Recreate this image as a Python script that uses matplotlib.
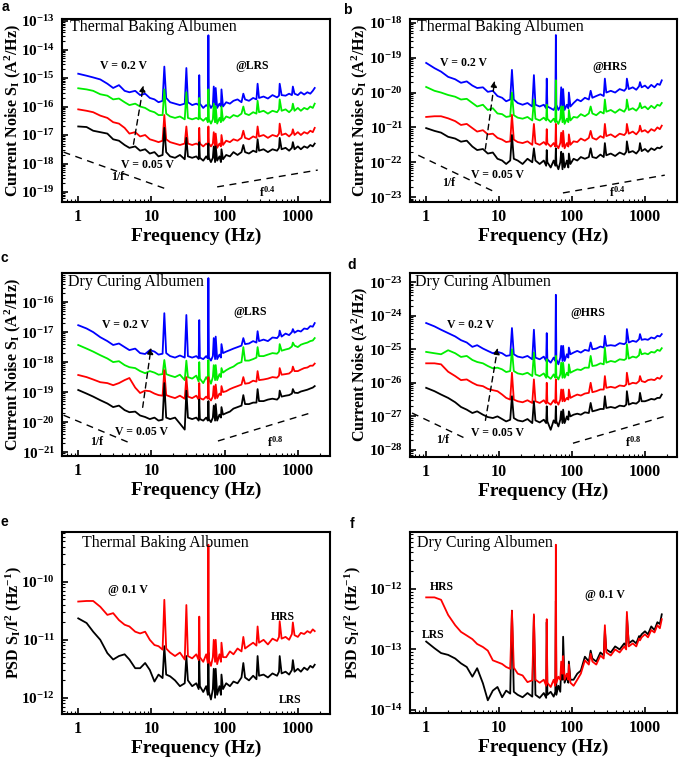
import numpy as np
import matplotlib.pyplot as plt
from matplotlib.ticker import FixedLocator, LogLocator, NullFormatter, FuncFormatter

plt.rcParams['font.family'] = 'Liberation Serif'
plt.rcParams['font.weight'] = 'bold'
plt.rcParams['axes.labelweight'] = 'bold'
plt.rcParams['mathtext.fontset'] = 'custom'
plt.rcParams['mathtext.rm'] = 'Liberation Serif:bold'
plt.rcParams['mathtext.bf'] = 'Liberation Serif:bold'
plt.rcParams['mathtext.it'] = 'Liberation Serif:bold'
plt.rcParams['mathtext.default'] = 'bf'

# frequency grid (Hz) shared by all traces
FREQ = [1, 1.3, 1.6, 2, 2.5, 3, 3.6, 4.3, 5, 6, 7, 8.2, 9.5, 11, 12.5,
        14.2, 15, 15.9, 18, 21, 24.5, 28.5, 30, 31.5, 36, 41, 44.2, 45, 45.9, 51,
        56, 59, 60, 61, 65, 69, 71, 74, 75.5, 79, 85, 89, 90.5, 95, 105,
        118, 132, 150, 170, 180, 190, 215, 245, 272, 282, 295, 340, 390, 450, 520,
        553, 565, 600, 680, 760, 830, 855, 900, 1000, 1100, 1220, 1350, 1480, 1600, 1700]

# log10 of the noise values
A_BLUE = [-14.85, -14.92, -14.98, -15.05, -15.20, -15.35, -15.25, -15.45, -15.50, -15.45, -15.60, -15.55, -15.70, -15.75, -15.85,
          -15.80, -14.60, -15.70, -15.85, -15.90, -15.95, -15.90, -14.65, -15.85, -15.95, -15.90, -15.95, -14.90, -15.90, -16.05,
          -15.95, -16.00, -13.50, -15.90, -16.05, -15.95, -15.30, -15.95, -15.35, -16.05, -15.90, -16.00, -15.40, -16.00, -15.85,
          -15.90, -15.80, -15.75, -15.85, -15.55, -15.75, -15.80, -15.70, -15.75, -15.20, -15.70, -15.65, -15.72, -15.60, -15.68,
          -15.62, -15.20, -15.60, -15.62, -15.55, -15.60, -15.30, -15.55, -15.60, -15.50, -15.58, -15.50, -15.55, -15.45, -15.35]
A_GREEN = [-15.36, -15.40, -15.45, -15.57, -15.62, -15.75, -15.72, -15.85, -15.95, -15.90, -16.00, -16.05, -16.15, -16.20, -16.30,
           -16.30, -15.40, -16.25, -16.35, -16.40, -16.35, -16.45, -15.50, -16.40, -16.45, -16.40, -16.45, -15.70, -16.40, -16.50,
           -16.40, -16.55, -15.40, -16.45, -16.60, -16.45, -15.90, -16.55, -16.00, -16.60, -16.40, -16.55, -16.00, -16.50, -16.35,
           -16.40, -16.30, -16.35, -16.25, -16.00, -16.25, -16.30, -16.20, -16.25, -15.80, -16.20, -16.15, -16.25, -16.15, -16.20,
           -16.10, -15.75, -16.15, -16.10, -16.20, -16.10, -15.90, -16.15, -16.05, -16.15, -16.05, -16.10, -16.00, -16.05, -15.90]
A_RED = [-16.10, -16.15, -16.20, -16.32, -16.40, -16.55, -16.60, -16.75, -16.95, -16.90, -17.05, -17.00, -17.15, -17.20, -17.25,
         -17.20, -16.30, -17.15, -17.25, -17.30, -17.35, -17.30, -16.70, -17.30, -17.35, -17.30, -17.35, -16.75, -17.30, -17.40,
         -17.30, -17.35, -16.70, -17.30, -17.40, -17.30, -16.90, -17.40, -16.95, -17.45, -17.30, -17.40, -17.00, -17.35, -17.20,
         -17.25, -17.15, -17.20, -17.10, -16.85, -17.10, -17.15, -17.05, -17.10, -16.70, -17.05, -17.00, -17.10, -17.00, -17.05,
         -16.95, -16.60, -17.00, -16.95, -17.05, -16.95, -16.80, -17.00, -16.90, -17.00, -16.90, -16.95, -16.85, -16.90, -16.75]
A_BLACK = [-16.70, -16.72, -16.85, -16.90, -16.95, -17.15, -17.20, -17.35, -17.45, -17.40, -17.55, -17.50, -17.65, -17.60, -17.75,
           -17.70, -16.75, -17.60, -17.75, -17.80, -17.70, -17.85, -17.10, -17.75, -17.80, -17.75, -17.85, -17.25, -17.80, -17.90,
           -17.75, -17.85, -17.30, -17.80, -17.95, -17.80, -17.40, -17.95, -17.40, -17.90, -17.75, -17.95, -17.50, -17.85, -17.70,
           -17.75, -17.60, -17.70, -17.60, -17.35, -17.60, -17.65, -17.55, -17.60, -17.15, -17.55, -17.50, -17.60, -17.50, -17.55,
           -17.45, -17.10, -17.50, -17.45, -17.55, -17.45, -17.25, -17.50, -17.40, -17.50, -17.40, -17.45, -17.35, -17.40, -17.30]

B_BLUE = [-19.15, -19.30, -19.40, -19.55, -19.62, -19.72, -19.68, -19.80, -19.87, -19.85, -19.98, -19.95, -20.10, -20.15, -20.25,
          -20.20, -19.35, -20.20, -20.30, -20.35, -20.30, -20.40, -19.50, -20.35, -20.40, -20.35, -20.45, -19.60, -20.40, -20.45,
          -20.50, -20.40, -18.35, -20.35, -20.50, -20.40, -19.85, -20.45, -19.90, -20.50, -20.35, -20.45, -20.00, -20.40, -20.30,
          -20.20, -20.25, -20.15, -20.20, -19.95, -20.15, -20.10, -20.05, -20.10, -19.60, -20.00, -19.95, -20.00, -19.90, -19.95,
          -19.88, -19.60, -19.90, -19.85, -19.92, -19.82, -19.70, -19.85, -19.80, -19.88, -19.78, -19.85, -19.75, -19.78, -19.65]
B_GREEN = [-19.84, -19.95, -20.00, -20.07, -20.12, -20.20, -20.18, -20.30, -20.40, -20.35, -20.50, -20.45, -20.60, -20.62, -20.70,
           -20.68, -20.00, -20.65, -20.72, -20.75, -20.70, -20.80, -20.20, -20.75, -20.80, -20.72, -20.80, -20.35, -20.75, -20.85,
           -20.75, -20.85, -19.65, -20.80, -20.90, -20.75, -20.40, -20.85, -20.40, -20.90, -20.75, -20.85, -20.50, -20.80, -20.70,
           -20.72, -20.62, -20.68, -20.60, -20.40, -20.60, -20.65, -20.55, -20.60, -20.20, -20.55, -20.50, -20.58, -20.48, -20.55,
           -20.45, -20.20, -20.50, -20.45, -20.52, -20.42, -20.30, -20.45, -20.40, -20.48, -20.38, -20.45, -20.35, -20.38, -20.30]
B_RED = [-20.70, -20.68, -20.68, -20.74, -20.82, -20.93, -20.90, -21.02, -21.12, -21.08, -21.20, -21.18, -21.30, -21.35, -21.42,
         -21.40, -20.64, -21.35, -21.42, -21.45, -21.40, -21.50, -20.90, -21.45, -21.50, -21.42, -21.50, -21.05, -21.45, -21.55,
         -21.45, -21.55, -20.90, -21.50, -21.60, -21.45, -21.15, -21.55, -21.10, -21.60, -21.45, -21.55, -21.20, -21.50, -21.40,
         -21.42, -21.32, -21.38, -21.30, -21.10, -21.30, -21.35, -21.25, -21.30, -20.90, -21.25, -21.20, -21.28, -21.18, -21.22,
         -21.15, -20.90, -21.18, -21.12, -21.20, -21.10, -20.95, -21.12, -21.08, -21.15, -21.05, -21.10, -21.00, -21.05, -20.95]
B_BLACK = [-21.02, -21.10, -21.15, -21.27, -21.32, -21.41, -21.38, -21.55, -21.65, -21.62, -21.75, -21.72, -21.90, -21.95, -22.05,
           -21.95, -21.22, -21.90, -21.95, -22.05, -21.90, -22.00, -21.60, -21.95, -22.05, -21.95, -22.10, -21.65, -22.00, -22.15,
           -21.95, -22.10, -21.60, -22.05, -22.20, -22.00, -21.70, -22.20, -21.75, -22.15, -21.95, -22.15, -21.75, -22.05, -21.90,
           -21.95, -21.85, -21.90, -21.85, -21.60, -21.85, -21.88, -21.78, -21.85, -21.45, -21.80, -21.75, -21.82, -21.72, -21.78,
           -21.70, -21.40, -21.72, -21.68, -21.75, -21.65, -21.45, -21.68, -21.62, -21.70, -21.60, -21.65, -21.58, -21.60, -21.55]

C_BLUE = [-16.77, -16.88, -17.00, -17.17, -17.30, -17.43, -17.38, -17.50, -17.60, -17.55, -17.70, -17.73, -17.60, -17.65, -17.75,
          -17.72, -16.37, -17.70, -17.80, -17.85, -17.78, -17.85, -16.43, -17.80, -17.85, -17.80, -17.88, -16.60, -17.85, -17.90,
          -17.80, -17.88, -15.20, -17.85, -17.95, -17.80, -17.20, -17.90, -17.15, -17.90, -17.75, -17.85, -17.40, -17.70, -17.65,
          -17.60, -17.55, -17.50, -17.45, -17.20, -17.40, -17.38, -17.30, -17.35, -16.97, -17.30, -17.25, -17.30, -17.18, -17.20,
          -17.12, -16.95, -17.15, -17.05, -17.10, -17.00, -16.90, -17.02, -16.95, -16.98, -16.88, -16.90, -16.80, -16.82, -16.70]
C_GREEN = [-17.43, -17.55, -17.65, -17.77, -17.88, -18.00, -17.97, -18.10, -18.17, -18.20, -18.30, -18.37, -18.30, -18.35, -18.42,
           -18.40, -17.93, -18.40, -18.45, -18.50, -18.42, -18.60, -17.95, -18.50, -18.55, -18.45, -18.65, -18.00, -18.55, -18.70,
           -18.50, -18.60, -17.93, -18.55, -18.72, -18.50, -18.10, -18.60, -18.10, -18.60, -18.40, -18.50, -18.20, -18.35, -18.27,
           -18.20, -18.15, -18.05, -18.00, -17.50, -17.95, -17.95, -17.90, -17.85, -17.50, -17.80, -17.80, -17.75, -17.70, -17.72,
           -17.65, -17.40, -17.62, -17.58, -17.55, -17.48, -17.35, -17.45, -17.50, -17.42, -17.38, -17.35, -17.30, -17.28, -17.20]
C_RED = [-18.43, -18.50, -18.58, -18.67, -18.70, -18.77, -18.70, -18.60, -18.53, -18.85, -19.03, -18.95, -18.97, -19.05, -19.10,
         -19.12, -18.27, -19.10, -19.15, -19.20, -19.12, -19.22, -18.50, -19.15, -19.20, -19.12, -19.25, -18.70, -19.20, -19.25,
         -19.15, -19.22, -18.50, -19.20, -19.28, -19.15, -18.80, -19.22, -18.75, -19.20, -19.05, -19.10, -18.80, -19.00, -18.97,
         -18.90, -18.85, -18.80, -18.75, -18.50, -18.72, -18.70, -18.62, -18.65, -18.30, -18.60, -18.58, -18.55, -18.50, -18.52,
         -18.45, -18.20, -18.42, -18.40, -18.38, -18.30, -18.15, -18.30, -18.30, -18.25, -18.20, -18.18, -18.12, -18.12, -18.05]
C_BLACK = [-18.93, -19.05, -19.15, -19.27, -19.38, -19.50, -19.45, -19.60, -19.67, -19.65, -19.78, -19.83, -19.90, -19.85, -19.95,
           -19.92, -18.70, -19.85, -19.90, -19.85, -20.05, -20.25, -18.95, -19.85, -19.90, -19.85, -19.95, -19.25, -19.90, -19.95,
           -19.85, -19.95, -19.30, -19.90, -20.00, -19.85, -19.45, -19.95, -19.40, -19.95, -19.75, -19.85, -19.50, -19.75, -19.70,
           -19.65, -19.55, -19.50, -19.45, -19.10, -19.40, -19.40, -19.35, -19.35, -18.90, -19.30, -19.30, -19.25, -19.22, -19.25,
           -19.18, -18.95, -19.15, -19.12, -19.10, -19.05, -18.90, -19.02, -19.03, -18.98, -18.95, -18.92, -18.88, -18.85, -18.80]

D_BLUE = [-24.22, -24.32, -24.42, -24.52, -24.62, -24.73, -24.80, -24.93, -24.88, -24.98, -25.05, -25.12, -25.08, -25.12, -25.20,
          -25.18, -24.37, -25.15, -25.22, -25.25, -25.20, -25.30, -24.42, -25.25, -25.30, -25.22, -25.35, -24.52, -25.30, -25.40,
          -25.25, -25.35, -23.38, -25.30, -25.45, -25.25, -24.90, -25.35, -24.90, -25.35, -25.15, -25.25, -24.95, -25.15, -25.10,
          -25.05, -25.10, -25.02, -25.05, -24.80, -25.00, -24.98, -24.92, -24.95, -24.60, -24.90, -24.88, -24.90, -24.82, -24.85,
          -24.80, -24.40, -24.80, -24.75, -24.78, -24.70, -24.55, -24.72, -24.70, -24.72, -24.65, -24.68, -24.60, -24.62, -24.55]
D_GREEN = [-25.08, -25.12, -25.15, -25.03, -25.12, -25.23, -25.20, -25.32, -25.38, -25.42, -25.50, -25.57, -25.55, -25.60, -25.68,
           -25.65, -25.00, -25.65, -25.72, -25.75, -25.70, -25.80, -25.10, -25.75, -25.80, -25.72, -25.85, -25.30, -25.80, -25.88,
           -25.75, -25.85, -25.20, -25.80, -25.90, -25.75, -25.40, -25.85, -25.40, -25.85, -25.70, -25.78, -25.45, -25.70, -25.65,
           -25.60, -25.62, -25.55, -25.55, -25.20, -25.50, -25.48, -25.42, -25.45, -24.95, -25.40, -25.35, -25.38, -25.30, -25.32,
           -25.28, -24.85, -25.28, -25.22, -25.25, -25.18, -25.00, -25.15, -25.12, -25.15, -25.08, -25.10, -25.02, -25.05, -24.97]
D_RED = [-25.42, -25.42, -25.45, -25.67, -25.80, -25.92, -25.90, -26.00, -26.07, -26.10, -26.18, -26.22, -26.25, -26.35, -26.45,
         -26.50, -25.70, -26.50, -26.55, -26.58, -26.52, -26.60, -25.90, -26.55, -26.60, -26.52, -26.62, -26.00, -26.58, -26.65,
         -26.52, -26.60, -25.90, -26.55, -26.65, -26.50, -26.20, -26.55, -26.20, -26.55, -26.45, -26.50, -26.20, -26.45, -26.40,
         -26.35, -26.38, -26.32, -26.30, -26.00, -26.28, -26.25, -26.20, -26.20, -25.80, -26.15, -26.12, -26.15, -26.08, -26.10,
         -26.05, -25.70, -26.05, -26.00, -26.02, -25.95, -25.80, -25.95, -25.98, -25.92, -25.90, -25.92, -25.85, -25.88, -25.80]
D_BLACK = [-26.15, -26.25, -26.35, -26.45, -26.58, -26.72, -26.80, -26.90, -26.85, -26.95, -27.02, -27.05, -27.00, -27.08, -27.15,
           -27.10, -26.40, -27.05, -27.12, -27.15, -27.08, -27.20, -26.55, -27.12, -27.18, -27.10, -27.20, -26.70, -27.15, -27.40,
           -27.12, -27.20, -26.70, -27.15, -27.30, -27.10, -26.85, -27.20, -26.80, -27.20, -27.00, -27.10, -26.85, -27.00, -26.95,
           -26.92, -26.95, -26.88, -26.90, -26.60, -26.85, -26.82, -26.78, -26.78, -26.40, -26.75, -26.72, -26.75, -26.68, -26.70,
           -26.65, -26.25, -26.65, -26.60, -26.62, -26.55, -26.30, -26.55, -26.55, -26.52, -26.48, -26.50, -26.45, -26.45, -26.35]

E_HRS = [-10.34, -10.33, -10.33, -10.43, -10.57, -10.54, -10.66, -10.74, -10.77, -10.86, -10.89, -10.86, -11.00, -11.09, -11.11,
         -11.17, -10.31, -11.15, -11.22, -11.28, -11.22, -11.34, -10.40, -11.28, -11.32, -11.25, -11.35, -10.60, -11.30, -11.38,
         -11.25, -11.40, -9.36, -11.35, -11.45, -11.30, -11.00, -11.38, -11.00, -11.42, -11.25, -11.38, -11.05, -11.30, -11.30,
         -11.20, -11.25, -11.15, -11.20, -10.95, -11.15, -11.10, -11.05, -11.10, -10.77, -11.05, -11.00, -11.08, -10.98, -11.02,
         -10.95, -10.68, -10.98, -10.95, -11.00, -10.90, -10.70, -10.92, -10.95, -10.88, -10.90, -10.85, -10.88, -10.82, -10.85]
E_LRS = [-10.63, -10.71, -10.86, -11.00, -11.23, -11.34, -11.28, -11.25, -11.34, -11.49, -11.49, -11.40, -11.52, -11.72, -11.60,
         -11.66, -11.11, -11.60, -11.63, -11.70, -11.80, -11.75, -11.28, -11.70, -11.80, -11.75, -11.85, -11.34, -11.80, -11.90,
         -11.80, -11.95, -11.22, -11.90, -12.03, -11.85, -11.50, -12.00, -11.50, -11.95, -11.80, -11.95, -11.60, -11.85, -11.75,
         -11.80, -11.72, -11.75, -11.65, -11.40, -11.65, -11.70, -11.62, -11.68, -11.28, -11.62, -11.60, -11.65, -11.58, -11.62,
         -11.55, -11.28, -11.58, -11.55, -11.60, -11.52, -11.35, -11.55, -11.50, -11.55, -11.48, -11.52, -11.45, -11.48, -11.43]

F_HRS = [-12.14, -12.14, -12.18, -12.43, -12.60, -12.71, -12.77, -12.83, -12.91, -12.96, -13.02, -13.18, -13.21, -13.24, -13.29,
         -13.32, -12.36, -13.30, -13.40, -13.43, -13.54, -13.51, -12.42, -13.50, -13.55, -13.50, -13.60, -12.50, -13.55, -13.62,
         -13.50, -13.60, -11.27, -13.55, -13.45, -13.50, -13.20, -13.40, -13.11, -13.50, -13.40, -13.50, -13.25, -13.55, -13.60,
         -13.50, -13.40, -13.18, -13.25, -13.07, -13.20, -13.25, -13.10, -13.15, -12.60, -13.05, -13.10, -13.00, -13.05, -12.95,
         -13.00, -12.38, -12.95, -12.90, -12.95, -12.82, -12.85, -12.80, -12.75, -12.80, -12.68, -12.72, -12.60, -12.65, -12.50]
F_LRS = [-12.87, -12.98, -13.06, -13.09, -13.15, -13.23, -13.29, -13.45, -13.31, -13.56, -13.84, -13.68, -13.62, -13.79, -13.68,
         -13.73, -12.36, -13.70, -13.75, -13.79, -13.72, -13.78, -12.45, -13.75, -13.80, -13.72, -13.80, -12.55, -13.75, -13.70,
         -13.78, -13.70, -12.20, -13.75, -13.60, -13.70, -13.30, -13.50, -12.79, -13.55, -13.45, -13.55, -13.20, -13.50, -13.50,
         -13.40, -13.35, -13.12, -13.20, -13.02, -13.15, -13.20, -13.05, -13.10, -12.68, -13.00, -13.05, -12.95, -13.00, -12.90,
         -12.95, -12.45, -12.90, -12.85, -12.90, -12.78, -12.80, -12.75, -12.70, -12.75, -12.62, -12.68, -12.55, -12.58, -12.42]

W, H = 685, 757
fig = plt.figure(figsize=(W / 100, H / 100), dpi=100)


def add_ax(left, right, top, bottom):
    return fig.add_axes([left / W, 1 - bottom / H, (right - left) / W, (bottom - top) / H])


def style(ax, ylim, ylabel, label_x):
    ax.set_xscale('log')
    ax.set_yscale('log')
    ax.set_xlim(0.6, 2750)
    ax.set_ylim(10 ** ylim[0], 10 ** ylim[1])
    ax.xaxis.set_major_locator(FixedLocator([1, 10, 100, 1000]))
    ax.xaxis.set_major_formatter(FuncFormatter(lambda v, p: '%d' % round(v)))
    ax.xaxis.set_minor_locator(LogLocator(base=10, subs=np.arange(2, 10), numticks=30))
    ax.xaxis.set_minor_formatter(NullFormatter())
    decades = range(int(np.ceil(ylim[0])), int(np.floor(ylim[1])) + 1)
    ax.yaxis.set_major_locator(FixedLocator([10.0 ** k for k in decades]))
    ax.yaxis.set_major_formatter(FuncFormatter(lambda v, p: r'$10^{%d}$' % round(np.log10(v))))
    ax.yaxis.set_minor_locator(LogLocator(base=10, subs=np.arange(2, 10), numticks=30))
    ax.yaxis.set_minor_formatter(NullFormatter())
    ax.tick_params(which='both', direction='in', top=False, right=False)
    ax.tick_params(axis='x', labelsize=11.5)
    ax.tick_params(axis='y', labelsize=11)
    ax.tick_params(which='major', length=4, width=1.2, pad=5)
    ax.tick_params(which='minor', length=2, width=0.8)
    for s in ax.spines.values():
        s.set_linewidth(1.5)
    ax.set_xlabel('Frequency (Hz)', fontsize=14, labelpad=2)
    ax.set_ylabel(ylabel, fontsize=11.5)
    ax.yaxis.set_label_coords(label_x, 0.5)


def trace(ax, vals, color):
    ax.plot(FREQ, 10 ** np.array(vals), color=color, lw=1.3)


def note(ax, f, s, txt, size=8.5):
    ax.text(f, 10 ** s, txt, ha='center', va='center', fontsize=size)


def dash(ax, p0, p1):
    ax.plot([p0[0], p1[0]], [10 ** p0[1], 10 ** p1[1]], color='k', lw=1, ls=(0, (5, 4)))


def arrow(ax, p0, p1):
    ax.annotate('', xy=(p1[0], 10 ** p1[1]), xytext=(p0[0], 10 ** p0[1]),
                arrowprops=dict(arrowstyle='-|>', ls=(0, (4, 3)), color='k', lw=1, mutation_scale=9))


YL_SI = r'Current Noise S$_I$ (A$^2$/Hz)'
YL_PSD = r'PSD S$_I$/I$^2$ (Hz$^{-1}$)'
COLORS = ['#0000ff', '#00ee00', '#ff0000', '#000000']

# ---- a ----
ax = add_ax(62, 330, 19, 202)
for vals, c in zip([A_BLUE, A_GREEN, A_RED, A_BLACK], COLORS):
    trace(ax, vals, c)
style(ax, (-19.35, -12.93), YL_SI, -0.145)
ax.text(0.03, 0.955, 'Thermal Baking Albumen', transform=ax.transAxes, fontweight='normal', fontsize=11.5, va='center')
note(ax, 4.1, -14.57, 'V = 0.2 V')
note(ax, 8.7, -18.05, 'V = 0.05 V')
arrow(ax, (5.6, -17.42), (7.9, -15.16))
note(ax, 236, -14.57, '@LRS')
dash(ax, (0.63, -17.6), (17, -18.92))
note(ax, 3.4, -18.47, '1/f')
dash(ax, (79, -18.82), (1870, -18.23))
note(ax, 380, -19.0, r'f$^{0.4}$')

# ---- b ----
ax = add_ax(410, 677, 19, 202)
for vals, c in zip([B_BLUE, B_GREEN, B_RED, B_BLACK], COLORS):
    trace(ax, vals, c)
style(ax, (-23.14, -17.89), YL_SI, -0.15)
ax.text(0.026, 0.956, 'Thermal Baking Albumen', transform=ax.transAxes, fontweight='normal', fontsize=11.5, va='center')
note(ax, 3.2, -19.15, 'V = 0.2 V')
note(ax, 9.4, -22.37, 'V = 0.05 V')
arrow(ax, (6.4, -21.7), (8.8, -19.58))
note(ax, 330, -19.26, '@HRS')
dash(ax, (0.78, -21.8), (8.3, -22.83))
note(ax, 2.0, -22.6, '1/f')
dash(ax, (75, -22.88), (1870, -22.37))
note(ax, 415, -22.85, r'f$^{0.4}$')

# ---- c ----
ax = add_ax(62, 330, 273, 456)
for vals, c in zip([C_BLUE, C_GREEN, C_RED, C_BLACK], COLORS):
    trace(ax, vals, c)
style(ax, (-21.13, -15.03), YL_SI, -0.145)
ax.text(0.022, 0.95, 'Dry Curing Albumen', transform=ax.transAxes, fontweight='normal', fontsize=11.5, va='center')
note(ax, 4.4, -16.77, 'V = 0.2 V')
note(ax, 7.4, -20.33, 'V = 0.05 V')
arrow(ax, (7.5, -19.6), (10, -17.43))
note(ax, 223, -16.33, '@LRS')
dash(ax, (0.63, -19.77), (4.8, -20.67))
note(ax, 1.8, -20.67, '1/f')
dash(ax, (81, -20.63), (1470, -19.7))
note(ax, 490, -20.67, r'f$^{0.8}$')

# ---- d ----
ax = add_ax(410, 677, 273, 457)
for vals, c in zip([D_BLUE, D_GREEN, D_RED, D_BLACK], COLORS):
    trace(ax, vals, c)
style(ax, (-28.21, -22.73), 'Current Noise (A$^2$/Hz)', -0.15)
ax.text(0.02, 0.95, 'Dry Curing Albumen', transform=ax.transAxes, fontweight='normal', fontsize=11.5, va='center')
note(ax, 4.0, -24.28, 'V = 0.2 V')
note(ax, 9.4, -27.5, 'V = 0.05 V')
arrow(ax, (6.4, -27.2), (9.7, -24.88))
note(ax, 166, -23.92, '@HRS')
dash(ax, (0.64, -26.9), (3.8, -27.7))
note(ax, 1.7, -27.7, '1/f')
dash(ax, (103, -27.8), (1870, -27.0))
note(ax, 690, -27.76, r'f$^{0.8}$')

# ---- e ----
ax = add_ax(62, 330, 532, 714)
trace(ax, E_LRS, 'k')
trace(ax, E_HRS, '#ff0000')
style(ax, (-12.28, -9.14), YL_PSD, -0.14)
ax.text(0.075, 0.94, 'Thermal Baking Albumen', transform=ax.transAxes, fontweight='normal', fontsize=11.5, va='center')
note(ax, 4.8, -10.14, '@ 0.1 V')
note(ax, 630, -10.6, 'HRS')
note(ax, 780, -12.03, 'LRS')

# ---- f ----
ax = add_ax(410, 677, 532, 713)
trace(ax, F_LRS, 'k')
trace(ax, F_HRS, '#ff0000')
style(ax, (-14.05, -11.06), YL_PSD, -0.176)
ax.text(0.026, 0.94, 'Dry Curing Albumen', transform=ax.transAxes, fontweight='normal', fontsize=11.5, va='center')
note(ax, 1.66, -11.97, 'HRS')
note(ax, 1.25, -12.76, 'LRS')
note(ax, 282, -12.1, '@ 0.1 V')

for lab, (px, py) in zip('abcdef', [(5, 7), (347, 10), (4, 258), (352, 265), (4, 522), (352, 524)]):
    fig.text(px / W, 1 - py / H, lab, family='Liberation Sans', fontweight='bold', fontsize=10,
             ha='center', va='center')

fig.savefig('out.png', dpi=100)
